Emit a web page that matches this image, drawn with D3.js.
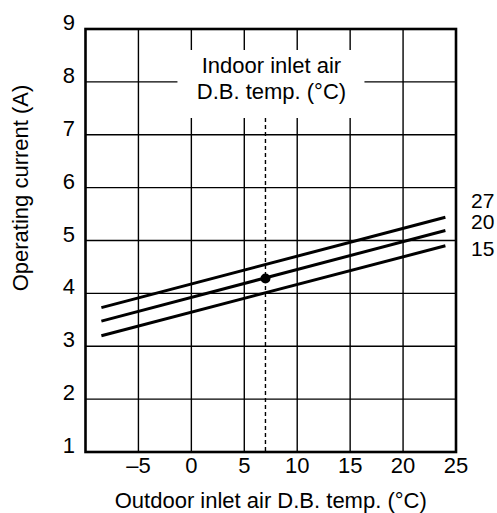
<!DOCTYPE html>
<html>
<head>
<meta charset="utf-8">
<script src="https://cdn.jsdelivr.net/npm/d3@7"></script>
<style>
  body { margin: 0; background: #fff; }
  svg text { font-family: "Liberation Sans", Arial, sans-serif; font-size: 22px; fill: #000; }
</style>
</head>
<body>
<div id="chart"></div>
<script>
// indoor inlet temp (curve labels)
const indoorTemps = ["27", "20", "15"];
// outdoor temp at both ends of each line
const outdoorRange = [-8.5, 24];
// operating current at the start / end of each line
const currentStart = [3.73, 3.475, 3.20];
const currentEnd   = [5.44, 5.19, 4.90];
// rated point
const ratedPoint = [7, 4.28];

const xTicks = [-5, 0, 5, 10, 15, 20, 25];
const xGrid  = [-5, 0, 5, 10, 15, 20];
const yTicks = [1, 2, 3, 4, 5, 6, 7, 8, 9];

const width = 497, height = 513;

const svg = d3.select("#chart")
  .append("svg")
  .attr("width", width)
  .attr("height", height);

const x = d3.scaleLinear().domain([-10, 25]).range([85.5, 456]);
const y = d3.scaleLinear().domain([1, 9]).range([452, 29]);

// grid
svg.append("g")
  .selectAll("line")
  .data(xGrid)
  .enter()
  .append("line")
  .attr("x1", d => x(d)).attr("x2", d => x(d))
  .attr("y1", y(9)).attr("y2", y(1))
  .attr("stroke", "#000").attr("stroke-width", 1.4);

svg.append("g")
  .selectAll("line")
  .data(yTicks.slice(1, -1))
  .enter()
  .append("line")
  .attr("x1", x(-10)).attr("x2", x(25))
  .attr("y1", d => y(d)).attr("y2", d => y(d))
  .attr("stroke", "#000").attr("stroke-width", 1.4);

// frame
svg.append("rect")
  .attr("x", x(-10)).attr("y", y(9))
  .attr("width", x(25) - x(-10)).attr("height", y(1) - y(9))
  .attr("fill", "none").attr("stroke", "#000").attr("stroke-width", 2.6);

// white box behind the legend title
const cx = x(ratedPoint[0]) + 6;
svg.append("rect")
  .attr("x", cx - 94).attr("y", 50)
  .attr("width", 187).attr("height", 68)
  .attr("fill", "#fff");

svg.append("text")
  .attr("x", cx).attr("y", 73)
  .attr("text-anchor", "middle")
  .text("Indoor inlet air");
svg.append("text")
  .attr("x", cx).attr("y", 99)
  .attr("text-anchor", "middle")
  .text("D.B. temp. (°C)");

// dotted line at rated outdoor temp
svg.append("line")
  .attr("x1", x(ratedPoint[0])).attr("x2", x(ratedPoint[0]))
  .attr("y1", 118).attr("y2", y(1))
  .attr("stroke", "#000").attr("stroke-width", 1.4)
  .attr("stroke-dasharray", "4,3");

// curves
const line = d3.line().x(d => x(d[0])).y(d => y(d[1]));
indoorTemps.forEach(function(t, i) {
  const pts = [[outdoorRange[0], currentStart[i]], [outdoorRange[1], currentEnd[i]]];
  svg.append("path")
    .attr("d", line(pts))
    .attr("fill", "none")
    .attr("stroke", "#000")
    .attr("stroke-width", 3);
});

// curve labels
const labelShift = [-9, -1, 10];
svg.append("g")
  .selectAll("text")
  .data(indoorTemps)
  .enter()
  .append("text")
  .attr("x", 471)
  .attr("y", (d, i) => y(currentEnd[i]) + labelShift[i])
  .style("font-size", "21px")
  .text(d => d);

svg.append("circle")
  .attr("cx", x(ratedPoint[0])).attr("cy", y(ratedPoint[1]))
  .attr("r", 5).attr("fill", "#000");

// tick labels
svg.append("g")
  .selectAll("text")
  .data(yTicks)
  .enter()
  .append("text")
  .attr("x", 75).attr("y", d => y(d) + 1)
  .attr("text-anchor", "end")
  .text(d => d);

svg.append("g")
  .selectAll("text")
  .data(xTicks)
  .enter()
  .append("text")
  .attr("x", d => x(d)).attr("y", 473)
  .attr("text-anchor", "middle")
  .text(d => d < 0 ? "\u2013" + Math.abs(d) : d);

// axis titles
svg.append("text")
  .attr("x", (x(-10) + x(25)) / 2).attr("y", 508)
  .attr("text-anchor", "middle")
  .text("Outdoor inlet air D.B. temp. (°C)");

svg.append("text")
  .attr("transform", "translate(28,188) rotate(-90)")
  .attr("text-anchor", "middle")
  .text("Operating current (A)");
</script>
</body>
</html>
